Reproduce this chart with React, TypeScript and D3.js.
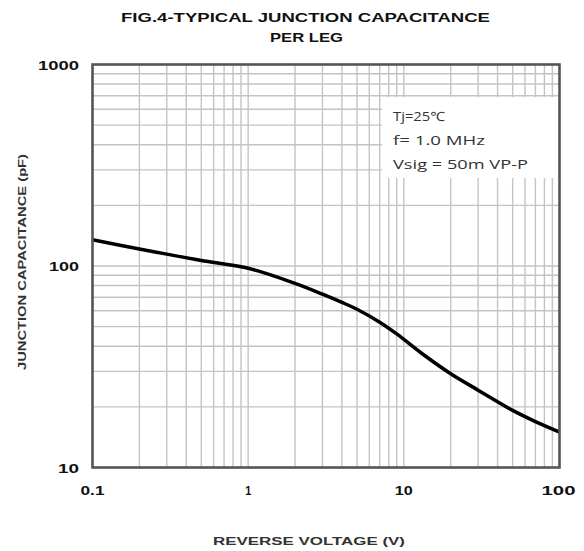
import React from "react";
import * as d3 from "d3";

const voltage = [0.1, 0.2, 0.3, 0.5, 1, 2, 3, 4, 5, 7, 9, 13, 20, 30, 40, 50, 70, 100];
const capacitance = [135, 121.5, 114.5, 106.5, 97.5, 82, 72.5, 66, 61, 52.6, 46, 36.9, 29.2, 24.2, 21.2, 19.2, 16.9, 15];

const xTicks = [0.1, 1, 10, 100];
const xTickLabels = ["0.1", "1", "10", "100"];
const yTicks = [10, 100, 1000];
const yTickLabels = ["10", "100", "1000"];

const titleLines = ["FIG.4-TYPICAL JUNCTION CAPACITANCE", "PER LEG"];
const xTitle = "REVERSE VOLTAGE (V)";
const yTitle = "JUNCTION CAPACITANCE (pF)";
const legendLines = ["Tj=25\u2103", "f= 1.0 MHz", "Vsig = 50m VP-P"];

export default function App() {
  const W = 584, H = 551;
  const left = 92.5, right = 559.5, top = 64.5, bottom = 467.5;
  const x = d3.scaleLog().domain([0.1, 100]).range([left, right]);
  const y = d3.scaleLog().domain([10, 1000]).range([bottom, top]);

  const vGrid: number[] = [];
  for (const dec of [0.1, 1, 10]) for (let m = 2; m <= 9; m++) vGrid.push(dec * m);
  vGrid.push(1, 10);
  const hGrid: number[] = [];
  for (const dec of [10, 100]) for (let m = 2; m <= 9; m++) hGrid.push(dec * m);
  hGrid.push(100);

  const line = d3
    .line<number>()
    .x((_, i) => x(voltage[i]))
    .y((d) => y(d))
    .curve(d3.curveCatmullRom.alpha(0.5));

  const bold = "'Liberation Sans', Arial, sans-serif";
  const xTickWidths = [24, 6, 18, 34];
  const yTickWidths = [21, 30, 41];

  return (
    <svg width={W} height={H} style={{ position: "absolute", left: 0, top: 0, background: "#fff" }}>
      <rect x={0} y={0} width={W} height={H} fill="#fff" />
      {titleLines.map((t, i) => (
        <text
          key={t}
          x={i === 0 ? 121 : 270}
          y={i === 0 ? 22 : 42}
          fontFamily={bold}
          fontWeight="bold"
          fontSize={12.5}
          textLength={i === 0 ? 369 : 73}
          lengthAdjust="spacingAndGlyphs"
          fill="#111"
        >
          {t}
        </text>
      ))}
      <g>
        {vGrid.map((v) => (
          <line key={"v" + v} x1={x(v)} x2={x(v)} y1={top} y2={bottom} stroke="#c4c4c4" strokeWidth={1.4} />
        ))}
        {hGrid.map((v) => (
          <line key={"h" + v} x1={left} x2={right} y1={y(v)} y2={y(v)} stroke="#c4c4c4" strokeWidth={1.4} />
        ))}
      </g>
      <rect x={382} y={97} width={right - 382} height={81} fill="#fff" />
      {legendLines.map((t, i) => (
        <text
          key={t}
          x={393}
          y={121 + i * 24}
          fontFamily="'Open Sans', 'Noto Sans', sans-serif"
          fontSize={13}
          fill="#333"
          textLength={[52, 92, 135][i]}
          lengthAdjust="spacingAndGlyphs"
        >
          {t}
        </text>
      ))}
      <path d={line(capacitance) || ""} fill="none" stroke="#000" strokeWidth={3.5} strokeLinejoin="round" />
      <rect x={left} y={top} width={right - left} height={bottom - top} fill="none" stroke="#555" strokeWidth={2.6} />
      {yTicks.map((v, i) => (
        <text
          key={"yt" + v}
          x={79}
          y={y(v) + 5}
          textAnchor="end"
          fontFamily={bold}
          fontWeight="bold"
          fontSize={13}
          textLength={yTickWidths[i]}
          lengthAdjust="spacingAndGlyphs"
          fill="#111"
        >
          {yTickLabels[i]}
        </text>
      ))}
      {xTicks.map((v, i) => (
        <text
          key={"xt" + v}
          x={x(v) + (i === 3 ? -1 : 0)}
          y={495}
          textAnchor="middle"
          fontFamily={bold}
          fontWeight="bold"
          fontSize={13}
          textLength={xTickWidths[i]}
          lengthAdjust="spacingAndGlyphs"
          fill="#111"
        >
          {xTickLabels[i]}
        </text>
      ))}
      <text
        x={309}
        y={545}
        textAnchor="middle"
        fontFamily={bold}
        fontWeight="bold"
        fontSize={10.5}
        textLength={192}
        lengthAdjust="spacingAndGlyphs"
        fill="#333"
      >
        {xTitle}
      </text>
      <text
        transform={`translate(26, 262) rotate(-90)`}
        textAnchor="middle"
        fontFamily={bold}
        fontWeight="bold"
        fontSize={10.5}
        textLength={216}
        lengthAdjust="spacingAndGlyphs"
        fill="#333"
      >
        {yTitle}
      </text>
    </svg>
  );
}
